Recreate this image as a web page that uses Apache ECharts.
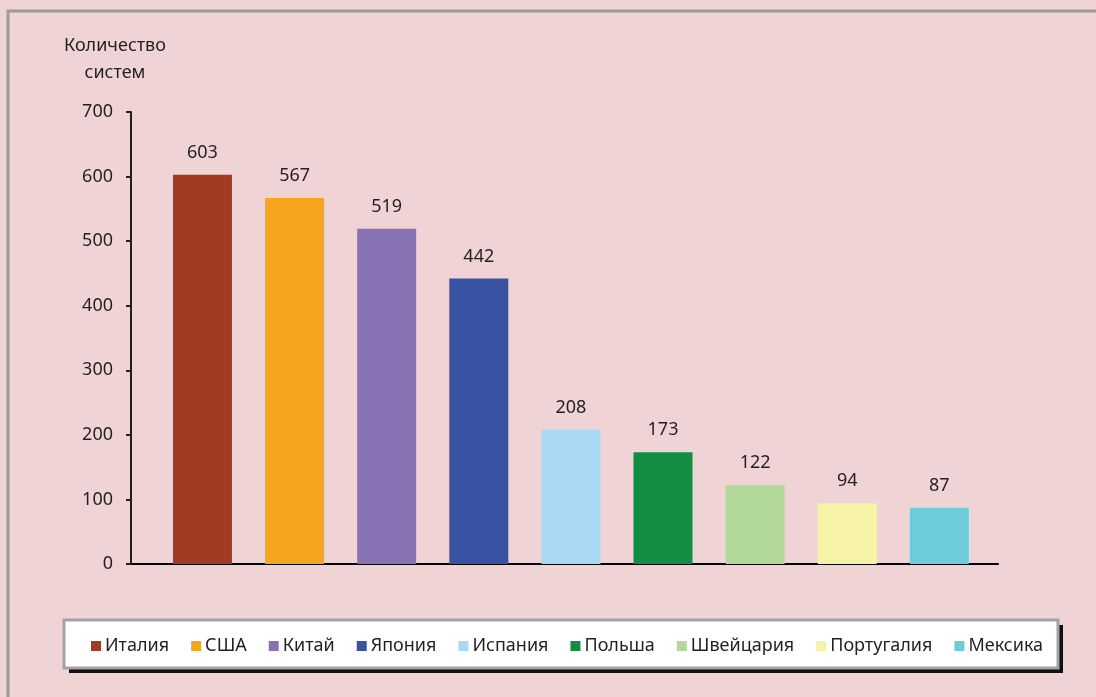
<!DOCTYPE html>
<html>
<head>
<meta charset="utf-8">
<script src="https://cdn.jsdelivr.net/npm/echarts@6/dist/echarts.min.js"></script>
<style>
  html, body { margin: 0; padding: 0; background: #f0d4d5; }
  #chart { width: 1096px; height: 697px; }
</style>
</head>
<body>
<div id="chart"></div>
<script>
const countries = ['Италия', 'США', 'Китай', 'Япония', 'Испания', 'Польша', 'Швейцария', 'Португалия', 'Мексика']
const systems = [603, 567, 519, 442, 208, 173, 122, 94, 87]
const colors = ['#a33a23', '#f7a51e', '#8872b3', '#3852a4', '#a9d8f4', '#138c44', '#b2d89a', '#f6f3a6', '#6dcbdc']
const yTicks = [0, 100, 200, 300, 400, 500, 600, 700]

const font = 'Noto Sans'
const textColor = '#231f20'

// one series per country so every bar gets its own legend entry
const series = countries.map((name, i) => ({
  name: name,
  type: 'bar',
  stack: 'all',
  barWidth: 59,
  data: [[i, systems[i]]],
  itemStyle: { color: colors[i] },
  label: {
    show: true,
    position: 'top',
    distance: 13,
    fontFamily: font,
    fontSize: 18,
    color: textColor
  }
}))

const option = {
  backgroundColor: '#f0d4d5',
  animation: false,
  color: colors,
  textStyle: { fontFamily: font },
  graphic: [
    { type: 'rect', z: 0, shape: { x: 8, y: 11, width: 1300, height: 900 },
      style: { fill: 'none', stroke: '#9a9a9a', lineWidth: 3 } },
    { type: 'rect', z: 0, shape: { x: 69, y: 625, width: 994, height: 48 },
      style: { fill: '#111' } },
    { type: 'rect', z: 0, shape: { x: 64, y: 620, width: 994, height: 48 },
      style: { fill: '#ffffff', stroke: '#a3a3a3', lineWidth: 3 } }
  ],
  legend: {
    data: countries,
    left: 86,
    top: 632,
    itemWidth: 10,
    itemHeight: 10,
    itemGap: 22,
    icon: 'rect',
    textStyle: { fontFamily: font, fontSize: 18, color: textColor, padding: [0, 0, 0, -1] }
  },
  grid: { left: 131, right: 98, top: 112, bottom: 133 },
  xAxis: {
    type: 'value',
    min: -0.776,
    max: 8.637,
    axisLine: { show: true, onZero: true, lineStyle: { color: '#000', width: 2 } },
    axisTick: { show: false },
    axisLabel: { show: false },
    splitLine: { show: false }
  },
  yAxis: {
    type: 'value',
    min: yTicks[0],
    max: yTicks[yTicks.length - 1],
    interval: 100,
    name: 'Количество\nсистем',
    nameLocation: 'end',
    nameGap: 26,
    nameTextStyle: { fontFamily: font, fontSize: 18, color: textColor, lineHeight: 27, padding: [0, 32, 0, 0] },
    axisLine: { show: true, onZero: false, lineStyle: { color: '#231f20', width: 2 } },
    axisTick: { show: true, length: 5, lineStyle: { color: '#231f20', width: 2 } },
    axisLabel: { fontFamily: font, fontSize: 18, color: textColor, margin: 18 },
    splitLine: { show: false }
  },
  series: series
}

const chart = echarts.init(document.getElementById('chart'))
chart.setOption(option)
window.onresize = function () {
  chart.resize()
}
</script>
</body>
</html>
